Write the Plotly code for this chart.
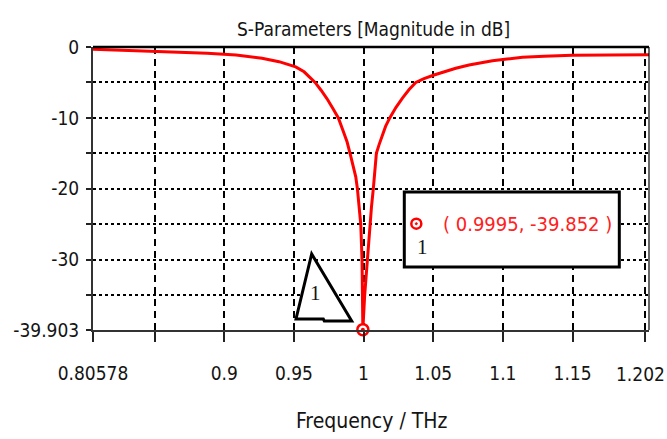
import plotly.graph_objects as go

# Reflection coefficient sweep (dB) around the 1 THz resonance
freq_thz = [0.80578, 0.8446, 0.8676, 0.8877, 0.9085, 0.9178, 0.9271, 0.9393, 0.9465,
            0.9513, 0.9573, 0.9632, 0.9652, 0.9695, 0.9738, 0.9781, 0.9819, 0.9853,
            0.9882, 0.9903, 0.9925, 0.9944, 0.9956, 0.9968, 0.9980, 0.9989, 0.9993,
            0.9995, 1.0008, 1.0027, 1.0045, 1.0057, 1.0070, 1.0083, 1.0092, 1.0111,
            1.0135, 1.0158, 1.0188, 1.0233, 1.0279, 1.0327, 1.0375, 1.0434, 1.0506,
            1.0590, 1.0662, 1.0757, 1.0829, 1.0925, 1.1030, 1.1140, 1.1296, 1.1499,
            1.1762, 1.2049]
s11_db = [-0.32, -0.56, -0.72, -0.89, -1.13, -1.35, -1.6, -2.07, -2.45,
          -2.8, -3.5, -4.6, -5.0, -6.1, -7.3, -8.7, -10.0, -11.8,
          -13.4, -15.0, -16.6, -18.3, -20.0, -22.5, -25.0, -30.0, -35.0,
          -39.852, -35.0, -30.0, -25.0, -22.5, -20.0, -17.5, -15.0, -13.8,
          -12.6, -11.2, -10.0, -8.5, -7.2, -6.0, -5.0, -4.45, -3.95,
          -3.4, -3.0, -2.55, -2.3, -1.93, -1.7, -1.45, -1.3, -1.15,
          -1.12, -1.10]

marker_freq = 0.9995
marker_db = -39.852

x_ticks = [0.80578, 0.85, 0.9, 0.95, 1.0, 1.05, 1.1, 1.15, 1.202]
x_labels = ["0.80578", "", "0.9", "0.95", "1", "1.05", "1.1", "1.15", ""]
last_x_label = "1.202"
y_ticks = [0, -5, -10, -15, -20, -25, -30, -35, -39.903]
y_labels = ["0", "", "-10", "", "-20", "", "-30", "", "-39.903"]
x_range = [0.80578, 1.2049]
y_range = [-39.903, 0]

FONT = "DejaVu Sans Condensed, Liberation Sans Narrow, Liberation Sans, sans-serif"
SERIF = "Liberation Serif, DejaVu Serif, serif"
TEXT = "#141414"

fig = go.Figure()

fig.add_trace(go.Scatter(
    x=freq_thz, y=s11_db, mode="lines",
    line=dict(color="#ff0000", width=3),
    hoverinfo="skip", showlegend=False,
))

# marker 1 at the minimum
fig.add_trace(go.Scatter(
    x=[marker_freq], y=[marker_db], mode="markers",
    marker=dict(symbol="circle", size=11, color="white",
                line=dict(color="#ff0000", width=2.5)),
    cliponaxis=False, hoverinfo="skip", showlegend=False,
))
fig.add_trace(go.Scatter(
    x=[marker_freq], y=[marker_db], mode="markers",
    marker=dict(symbol="circle", size=4, color="#ff0000"),
    cliponaxis=False, hoverinfo="skip", showlegend=False,
))

shapes = [
    # top and right frame
    dict(type="line", xref="paper", yref="paper", x0=0, x1=1, y0=1, y1=1,
         line=dict(color="black", width=2.5)),
    dict(type="line", xref="paper", yref="paper", x0=1, x1=1, y0=0, y1=1,
         line=dict(color="black", width=1.2)),
    # marker readout box
    dict(type="rect", xref="paper", yref="paper",
         x0=0.5599, x1=0.9466, y0=0.2226, y1=0.4876,
         line=dict(color="black", width=3), fillcolor="white"),
    dict(type="circle", xref="paper", yref="paper",
         x0=0.5725, x1=0.5905, y0=0.3580, y1=0.3933,
         line=dict(color="#ff0000", width=2.5), fillcolor="white"),
    dict(type="circle", xref="paper", yref="paper",
         x0=0.5797, x1=0.5833, y0=0.3721, y1=0.3792,
         line=dict(color="#ff0000", width=1), fillcolor="#ff0000"),
    # marker flag triangle
    dict(type="path", xref="paper", yref="paper",
         path="M 0.3651 0.0389 L 0.3933 0.2686 L 0.4653 0.0318 L 0.4160 0.0318 "
              "L 0.4142 0.0389 Z",
         line=dict(color="black", width=3), fillcolor="white"),
]

annotations = [
    dict(text="S-Parameters [Magnitude in dB]", xref="paper", yref="paper",
         x=0.5, y=1.064, showarrow=False, xanchor="center", yanchor="middle",
         xshift=2, font=dict(family=FONT, size=19, color=TEXT)),
    dict(text=f"( {marker_freq}, {marker_db} )", xref="paper", yref="paper",
         x=0.7806, y=0.3746, showarrow=False, xanchor="center", yanchor="middle",
         font=dict(family=FONT, size=20, color="#ff2020")),
    dict(text="1", xref="paper", yref="paper", x=0.593, y=0.2933,
         showarrow=False, xanchor="center", yanchor="middle",
         font=dict(family=SERIF, size=21, color=TEXT)),
    dict(text="1", xref="paper", yref="paper", x=0.3993, y=0.1307,
         showarrow=False, xanchor="center", yanchor="middle",
         font=dict(family=SERIF, size=21, color=TEXT)),
    dict(text="Frequency / THz", xref="paper", yref="paper", x=0.5018, y=-0.3216,
         showarrow=False, xanchor="center", yanchor="middle",
         font=dict(family=FONT, size=21, color=TEXT)),
    # last frequency label, kept inside the page edge
    dict(text=last_x_label, xref="x", yref="paper", x=x_ticks[-1], y=-0.157,
         showarrow=False, xanchor="right", yanchor="middle", xshift=22,
         font=dict(family=FONT, size=19, color=TEXT)),
]

fig.update_layout(
    width=667, height=439,
    margin=dict(l=93, r=18, t=47, b=109),
    paper_bgcolor="white", plot_bgcolor="white",
    shapes=shapes, annotations=annotations,
    xaxis=dict(range=x_range, tickmode="array", tickvals=x_ticks, ticktext=x_labels,
               showgrid=True, gridcolor="black", gridwidth=1.5, griddash="7px,5px",
               zeroline=False, showline=True, linecolor="#333333", linewidth=2,
               ticks="outside", ticklen=10, tickwidth=1.5, tickcolor="#222222",
               ticklabelstandoff=15, automargin=False,
               tickfont=dict(family=FONT, size=19, color=TEXT)),
    yaxis=dict(range=y_range, tickmode="array", tickvals=y_ticks, ticktext=y_labels,
               showgrid=True, gridcolor="black", gridwidth=1.5, griddash="3px,3px",
               zeroline=False, showline=True, linecolor="#333333", linewidth=2,
               ticks="outside", ticklen=5, tickwidth=2, tickcolor="#222222",
               ticklabelstandoff=3, automargin=False,
               tickfont=dict(family=FONT, size=19, color=TEXT)),
)

fig.write_html("out.html")
